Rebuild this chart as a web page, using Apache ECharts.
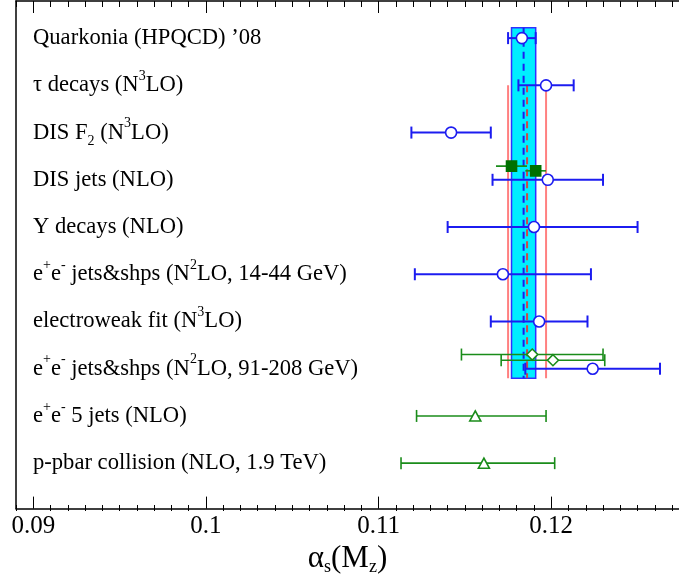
<!DOCTYPE html>
<html>
<head>
<meta charset="utf-8">
<script src="https://cdn.jsdelivr.net/npm/echarts@6/dist/echarts.min.js"></script>
<style>
  html, body { margin: 0; padding: 0; background: #fff; }
  #chart { width: 679px; height: 581px; }
</style>
</head>
<body>
<div id="chart"></div>
<script>
// row labels (rich text: t = normal, sup = superscript, sub = subscript)
var rowLabels = [
  '{t|Quarkonia (HPQCD) ’08}',
  '{t|τ decays (N}{sup|3}{t|LO)}',
  '{t|DIS F}{sub|2}{t| (N}{sup|3}{t|LO)}',
  '{t|DIS jets (NLO)}',
  '{t|Y decays (NLO)}',
  '{t|e}{sup|+}{t|e}{sup|-}{t| jets&shps (N}{sup|2}{t|LO, 14-44 GeV)}',
  '{t|electroweak fit (N}{sup|3}{t|LO)}',
  '{t|e}{sup|+}{t|e}{sup|-}{t| jets&shps (N}{sup|2}{t|LO, 91-208 GeV)}',
  '{t|e}{sup|+}{t|e}{sup|-}{t| 5 jets (NLO)}',
  '{t|p-pbar collision (NLO, 1.9 TeV)}'
]
var rowPositions = [0, 1, 2, 3, 4, 5, 6, 7, 8, 9]

var xTicks = [0.09, 0.10, 0.11, 0.12]
var minorTicks = [
  0.089, 0.091, 0.092, 0.093, 0.094, 0.095, 0.096, 0.097, 0.098, 0.099,
  0.101, 0.102, 0.103, 0.104, 0.105, 0.106, 0.107, 0.108, 0.109,
  0.111, 0.112, 0.113, 0.114, 0.115, 0.116, 0.117, 0.118, 0.119,
  0.121, 0.122, 0.123, 0.124, 0.125, 0.126, 0.127
]

// [central, low, high, row]
var blueCircles = [
  [0.1183, 0.1175, 0.1191, 0],
  [0.1197, 0.1181, 0.1213, 1],
  [0.1142, 0.1119, 0.1165, 2],
  [0.1198, 0.1166, 0.1230, 3],
  [0.1190, 0.1140, 0.1250, 4],
  [0.1172, 0.1121, 0.1223, 5],
  [0.1193, 0.1165, 0.1221, 6],
  [0.1224, 0.1185, 0.1263, 7]
]
var greenSquares = [
  [0.1177, 0.1168, 0.1186, 2.71],
  [0.1191, 0.1185, 0.1197, 2.81]
]
var greenDiamonds = [
  [0.1189, 0.1148, 0.1230, 6.70],
  [0.1201, 0.1171, 0.1231, 6.82]
]
var greenTriangles = [
  [0.1156, 0.1122, 0.1197, 8],
  [0.1161, 0.1113, 0.1202, 9]
]

// world average band and previous average lines
var bandRange = [0.1177, 0.1191]
var bandCenter = 0.1184
var bandRows = [-0.22, 7.2]
var redRange = [0.1175, 0.1197]
var redCenter = 0.1186
var redRows = [1.0, 7.2]

var BLUE = '#1c1cf0'
var GREEN = '#1a8c1a'
var SERIF = 'Liberation Serif'
var GRID = { left: 16, right: 0, top: 1, bottom: 70, containLabel: false }

function errorBars(data, color, width, caps) {
  return {
    type: 'custom',
    silent: true,
    z: 4,
    data: data.map(function (d) { return [d[1], d[2], d[3]] }),
    encode: { x: [0, 1], y: 2 },
    renderItem: function (params, api) {
      var a = api.coord([api.value(0), api.value(2)])
      var b = api.coord([api.value(1), api.value(2)])
      var st = { stroke: color, lineWidth: width }
      var kids = [{ type: 'line', shape: { x1: a[0], y1: a[1], x2: b[0], y2: b[1] }, style: st }]
      if (caps) {
        kids.push({ type: 'line', shape: { x1: a[0], y1: a[1] - 6, x2: a[0], y2: a[1] + 6 }, style: st })
        kids.push({ type: 'line', shape: { x1: b[0], y1: b[1] - 6, x2: b[0], y2: b[1] + 6 }, style: st })
      }
      return { type: 'group', children: kids }
    }
  }
}

function markers(data, symbol, size, color, filled) {
  return {
    type: 'scatter',
    silent: true,
    z: 5,
    symbol: symbol,
    symbolSize: size,
    data: data.map(function (d) { return [d[0], d[3]] }),
    itemStyle: {
      color: filled ? color : '#fff',
      borderColor: color,
      borderWidth: 1.6,
      opacity: 1
    }
  }
}

function vline(x, rows, color, width, dash, z) {
  return {
    type: 'custom',
    silent: true,
    z: z,
    data: [[x, rows[0], rows[1]]],
    encode: { x: 0, y: [1, 2] },
    renderItem: function (params, api) {
      var a = api.coord([api.value(0), api.value(1)])
      var b = api.coord([api.value(0), api.value(2)])
      return {
        type: 'line',
        shape: { x1: a[0], y1: a[1], x2: b[0], y2: b[1] },
        style: { stroke: color, lineWidth: width, lineDash: dash }
      }
    }
  }
}

// major ticks live in grid 0, minor ticks in grid 1 laid over it
// (ticks only show where labels exist, so minor axes carry empty labels)
function xAxisDef(position, major) {
  var vals = major ? xTicks : minorTicks
  var emptyLabel = {
    show: true, customValues: vals, fontSize: 1,
    margin: position === 'top' ? -14 : 8,
    formatter: function () { return '' }
  }
  return {
    type: 'value',
    gridIndex: major ? 0 : 1,
    position: position,
    min: 0.089,
    max: 0.1274,
    axisLine: { show: major, onZero: false, lineStyle: { color: '#000', width: 1.5 } },
    splitLine: { show: false },
    axisTick: {
      show: true, inside: true,
      length: major ? 12 : 6,
      customValues: vals,
      lineStyle: { color: '#000', width: 1 }
    },
    axisLabel: major && position === 'bottom'
      ? {
          show: true, customValues: vals, margin: 5,
          fontFamily: SERIF, fontSize: 25, color: '#000',
          formatter: function (v) { return String(Math.round(v * 1000) / 1000) }
        }
      : (major ? { show: false } : emptyLabel)
  }
}

var chart = echarts.init(document.getElementById('chart'))

var xAxes = [xAxisDef('bottom', true), xAxisDef('top', true), xAxisDef('bottom', false), xAxisDef('top', false)]
xAxes[0].name = '{a|α}{s|s}{a|(M}{s|z}{a|)}'
xAxes[0].nameLocation = 'middle'
xAxes[0].nameGap = 28
xAxes[0].nameTextStyle = {
  rich: {
    a: { fontFamily: SERIF, fontSize: 31, color: '#000', lineHeight: 34 },
    s: { fontFamily: SERIF, fontSize: 18, color: '#000', verticalAlign: 'bottom', lineHeight: 30 }
  }
}

chart.setOption({
  animation: false,
  grid: [GRID, GRID],
  xAxis: xAxes,
  yAxis: [{
    type: 'value',
    gridIndex: 0,
    inverse: true,
    min: -0.786,
    max: 9.962,
    axisLine: { show: true, onZero: false, lineStyle: { color: '#000', width: 1.5 } },
    axisTick: { show: false },
    splitLine: { show: false },
    axisLabel: {
      show: true,
      inside: true,
      margin: 17,
      align: 'left',
      customValues: rowPositions,
      formatter: function (v) { return rowLabels[Math.round(v)] },
      rich: {
        t: { fontFamily: SERIF, fontSize: 22.6, color: '#000', lineHeight: 32 },
        sup: { fontFamily: SERIF, fontSize: 14, color: '#000', verticalAlign: 'top', lineHeight: 16 },
        sub: { fontFamily: SERIF, fontSize: 14, color: '#000', verticalAlign: 'bottom', lineHeight: 14 }
      }
    }
  }, {
    type: 'value',
    gridIndex: 1,
    min: 0,
    max: 10,
    show: false
  }],
  series: [
    {
      type: 'custom',
      silent: true,
      z: 1,
      data: [[bandRange[0], bandRange[1], bandRows[0], bandRows[1]]],
      encode: { x: [0, 1], y: [2, 3] },
      renderItem: function (params, api) {
        var a = api.coord([api.value(0), api.value(2)])
        var b = api.coord([api.value(1), api.value(3)])
        return {
          type: 'rect',
          shape: { x: a[0], y: a[1], width: b[0] - a[0], height: b[1] - a[1] },
          style: { fill: '#00eeff', stroke: '#3030ff', lineWidth: 1.5 }
        }
      }
    },
    vline(redRange[0], redRows, '#ff8080', 2, null, 2),
    vline(redRange[1], redRows, '#ff8080', 2, null, 2),
    vline(bandCenter, bandRows, BLUE, 2, [7, 5], 3),
    vline(redCenter, redRows, '#d04848', 2, [7, 5], 3),
    errorBars(blueCircles, BLUE, 2, true),
    errorBars(greenSquares, GREEN, 1.6, false),
    errorBars(greenDiamonds, GREEN, 1.6, true),
    errorBars(greenTriangles, GREEN, 1.6, true),
    markers(blueCircles, 'circle', 11, BLUE, false),
    markers(greenSquares, 'rect', [10, 10], '#007000', true),
    markers(greenDiamonds, 'diamond', [11, 11], GREEN, false),
    markers(greenTriangles, 'triangle', [11, 10], GREEN, false)
  ]
})
</script>
</body>
</html>
